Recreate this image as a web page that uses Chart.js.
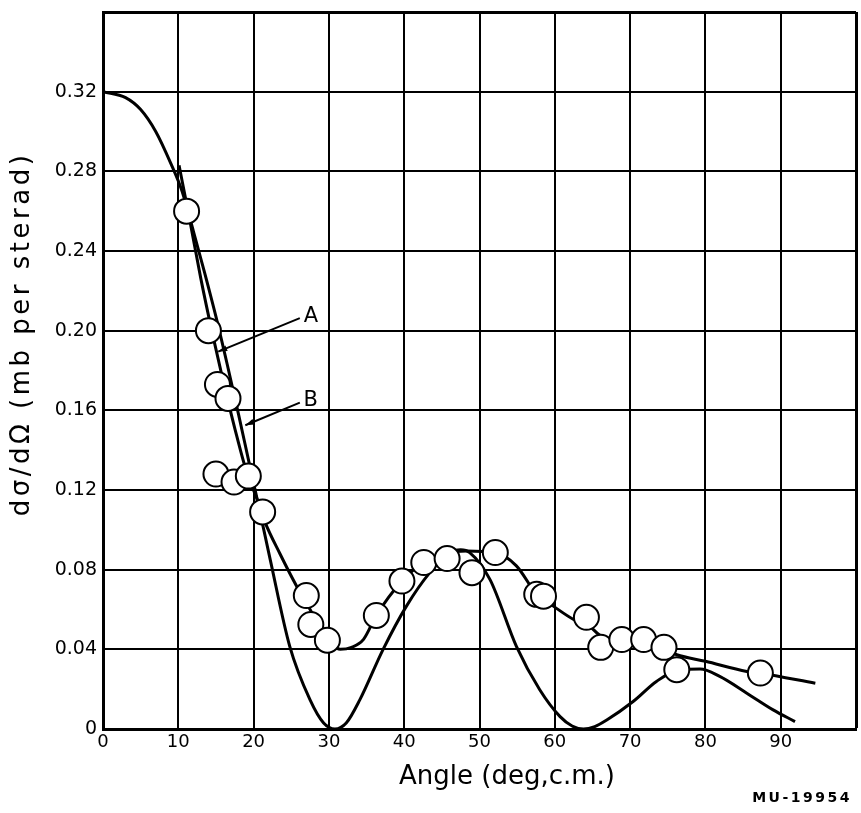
<!DOCTYPE html>
<html>
<head>
<meta charset="utf-8">
<script src="https://cdn.jsdelivr.net/npm/chart.js@4.4.1/dist/chart.umd.min.js"></script>
<style>
  html, body { margin: 0; padding: 0; background: #fff; }
  canvas { display: block; }
</style>
</head>
<body>
<canvas id="crossSection" width="861" height="813"></canvas>
<script>
// measured cross sections (open circles)
const pointAngles = [11.1, 14.0, 15.2, 16.6, 15.0, 17.4, 19.3, 21.2, 27.0, 27.6, 29.8, 36.3, 39.7,
                     42.6, 45.7, 49.0, 52.1, 57.6, 58.5, 64.2, 66.1, 68.9, 71.8, 74.5, 76.2, 87.3];
const pointValues = [0.260, 0.200, 0.173, 0.166, 0.128, 0.124, 0.127, 0.109, 0.067, 0.0525, 0.0446, 0.057, 0.0743,
                     0.0836, 0.0856, 0.0785, 0.0886, 0.0676, 0.0667, 0.0561, 0.041, 0.0449, 0.0449, 0.041, 0.0298, 0.0281];

// curve A, drawn through the measurements
const curveAAngles = [10.1, 11.5, 13.0, 14.5, 16.0, 17.5, 19.0, 20.5, 21.5, 23.5, 25.7, 27.5, 29.5, 31.5, 33.0,
                      34.6, 36.3, 39.7, 42.6, 45.7, 48.3, 52.1, 54.9, 57.6, 59.8, 62.5, 64.5, 66.0, 68.0,
                      71.0, 74.0, 76.2, 80.0, 85.5, 87.3, 94.6];
const curveAValues = [0.283, 0.256, 0.226, 0.199, 0.174, 0.151, 0.130, 0.115, 0.104, 0.088, 0.0718, 0.060, 0.047, 0.040, 0.041,
                      0.045, 0.057, 0.0743, 0.0836, 0.0886, 0.0894, 0.0886, 0.0819, 0.0676, 0.0617, 0.055, 0.052, 0.047, 0.0445,
                      0.043, 0.041, 0.0373, 0.034, 0.0289, 0.028, 0.023];

// curve B, the calculated distribution
const curveBAngles = [0, 3, 5, 7, 9, 10.5, 12, 13.5, 15, 16.5, 18, 19.5, 20.5, 22.2, 24.8, 27.5, 29.3, 30.8, 32.3,
                      34.1, 37.2, 40.3, 43.4, 46.1, 47.5, 48.7, 51.4, 54.9, 58.0, 60.7, 62.3, 63.8, 65.3, 66.9, 70.4,
                      73.5, 76.6, 79.3, 81.9, 85.5, 89.0, 91.9];
const curveBValues = [0.320, 0.317, 0.311, 0.300, 0.284, 0.270, 0.250, 0.229, 0.207, 0.183, 0.158, 0.132, 0.115, 0.0852, 0.0415, 0.0146, 0.003, 0.0, 0.003,
                      0.0146, 0.040, 0.0617, 0.0785, 0.0886, 0.090, 0.0886, 0.075, 0.0415, 0.0197, 0.0062, 0.0015, 0.0, 0.0012, 0.0045, 0.0138,
                      0.0239, 0.0298, 0.0301, 0.0264, 0.018, 0.0096, 0.0037];

const xTickLabels = ['0', '10', '20', '30', '40', '50', '60', '70', '80', '90'];
const yTickLabels = ['0', '0.04', '0.08', '0.12', '0.16', '0.20', '0.24', '0.28', '0.32'];

// curve names and where their arrows point
const curveNames = ['A', 'B'];
const nameAngles = [27.6, 27.6];
const nameValues = [0.2073, 0.1649];
const arrowAngles = [15.3, 18.9];
const arrowValues = [0.1895, 0.1525];

const FONT = "'DejaVu Sans', sans-serif";

function toXY(xs, ys) {
    return xs.map((x, i) => ({ x: x, y: ys[i] }));
}

const annotate = {
    id: 'annotate',
    afterDatasetsDraw(chart) {
        const { ctx, scales: { x, y } } = chart;
        ctx.save();
        ctx.fillStyle = '#000';
        ctx.strokeStyle = '#000';
        ctx.font = '21px ' + FONT;
        ctx.textAlign = 'center';
        ctx.textBaseline = 'middle';
        curveNames.forEach((name, i) => {
            const tx = x.getPixelForValue(nameAngles[i]);
            const ty = y.getPixelForValue(nameValues[i]);
            ctx.fillText(name, tx, ty);
            const sx = tx - 11, sy = ty + 2;
            const ex = x.getPixelForValue(arrowAngles[i]);
            const ey = y.getPixelForValue(arrowValues[i]);
            ctx.lineWidth = 2;
            ctx.beginPath();
            ctx.moveTo(sx, sy);
            ctx.lineTo(ex, ey);
            ctx.stroke();
            const a = Math.atan2(ey - sy, ex - sx);
            ctx.beginPath();
            ctx.moveTo(ex, ey);
            ctx.lineTo(ex - 9 * Math.cos(a) + 3 * Math.sin(a), ey - 9 * Math.sin(a) - 3 * Math.cos(a));
            ctx.lineTo(ex - 9 * Math.cos(a) - 3 * Math.sin(a), ey - 9 * Math.sin(a) + 3 * Math.cos(a));
            ctx.closePath();
            ctx.fill();
        });
        ctx.restore();
    },
    afterDraw(chart) {
        const ctx = chart.ctx;
        ctx.save();
        ctx.fillStyle = '#000';
        ctx.textAlign = 'center';
        ctx.textBaseline = 'middle';
        ctx.font = '26px ' + FONT;
        // x axis title, set a little right of the plot centre
        ctx.fillText('Angle (deg,c.m.)', 507, 777);
        // y axis title
        ctx.translate(22, 334);
        ctx.rotate(-Math.PI / 2);
        ctx.letterSpacing = '3.5px';
        ctx.fillText('dσ/dΩ (mb per sterad)', 0, 0);
        ctx.restore();

        // drawing number, bottom right
        ctx.save();
        ctx.fillStyle = '#000';
        ctx.font = 'bold 14px ' + FONT;
        ctx.letterSpacing = '2.5px';
        ctx.textAlign = 'right';
        ctx.textBaseline = 'middle';
        ctx.fillText('MU-19954', 852, 798);
        ctx.restore();
    }
};

new Chart('crossSection', {
    type: 'scatter',
    data: {
        datasets: [
            {
                label: 'measured',
                data: toXY(pointAngles, pointValues),
                showLine: false,
                pointRadius: 12.5,
                pointBackgroundColor: '#fff',
                pointBorderColor: '#000',
                pointBorderWidth: 2
            },
            {
                label: 'A',
                data: toXY(curveAAngles, curveAValues),
                showLine: true,
                pointRadius: 0,
                borderColor: '#000',
                borderWidth: 3,
                cubicInterpolationMode: 'monotone'
            },
            {
                label: 'B',
                data: toXY(curveBAngles, curveBValues),
                showLine: true,
                pointRadius: 0,
                borderColor: '#000',
                borderWidth: 3,
                cubicInterpolationMode: 'monotone'
            }
        ]
    },
    options: {
        responsive: false,
        animation: false,
        devicePixelRatio: 1,
        layout: {
            autoPadding: false,
            padding: { top: 12, right: 5, left: 0, bottom: 0 }
        },
        plugins: {
            legend: { display: false },
            tooltip: { enabled: false }
        },
        scales: {
            x: {
                type: 'linear',
                min: 0,
                max: 100,
                afterFit: (s) => {
                    s.height = 84;
                    s.paddingLeft = 0;
                    s.paddingRight = 0;
                },
                ticks: {
                    stepSize: 10,
                    padding: 3,
                    color: '#000',
                    maxRotation: 0,
                    autoSkip: false,
                    font: { family: FONT, size: 18 },
                    callback: (v, i) => xTickLabels[i] ?? ''
                },
                grid: {
                    color: '#000',
                    lineWidth: (c) => c.index === 10 ? 3 : 2,
                    drawTicks: false
                },
                border: { color: '#000', width: 3 }
            },
            y: {
                type: 'linear',
                min: 0,
                max: 0.36,
                afterFit: (s) => {
                    s.width = 103;
                    s.paddingTop = 0;
                    s.paddingBottom = 0;
                },
                ticks: {
                    stepSize: 0.04,
                    padding: 6,
                    color: '#000',
                    autoSkip: false,
                    font: { family: FONT, size: 19 },
                    callback: (v, i) => yTickLabels[i] ?? ''
                },
                grid: {
                    color: '#000',
                    lineWidth: (c) => c.index === 9 ? 3 : 2,
                    drawTicks: false
                },
                border: { color: '#000', width: 3 }
            }
        }
    },
    plugins: [annotate]
});
</script>
</body>
</html>
